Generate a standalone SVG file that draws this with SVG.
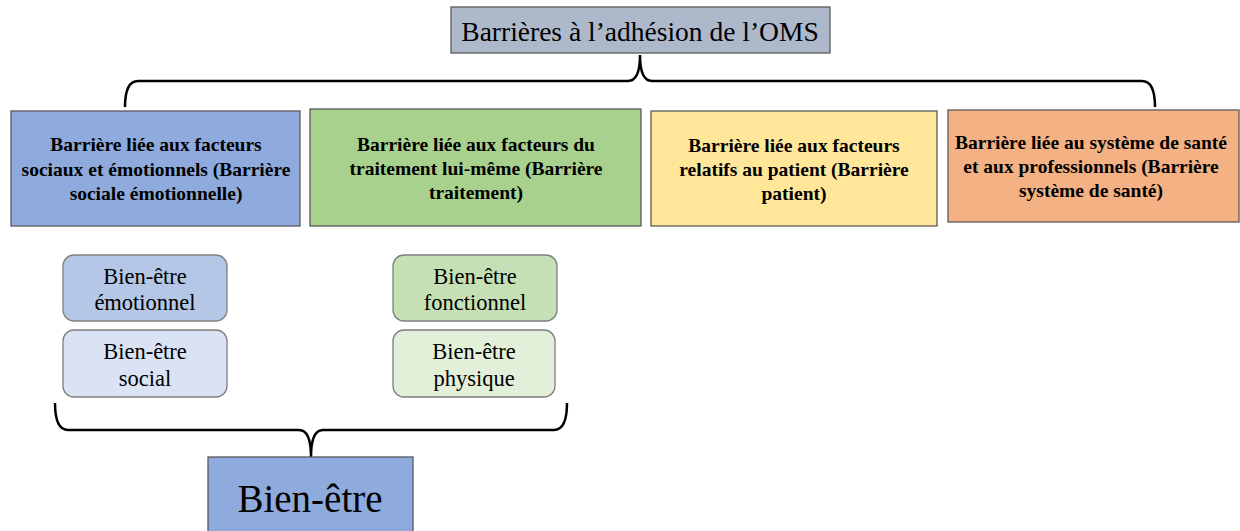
<svg xmlns="http://www.w3.org/2000/svg" width="1240" height="531" viewBox="0 0 1240 531">
<style>
.box{stroke:#595959;stroke-width:1.3}
.sub{stroke:#7f7f7f;stroke-width:1.3}
.t{font-family:"Liberation Serif","Times New Roman",serif;fill:#000;text-anchor:middle}
.b{font-weight:bold;font-size:19.5px}
.s{font-size:22.5px}
.br{fill:none;stroke:#000;stroke-width:2.5}
</style>
<rect width="1240" height="531" fill="#fff"/>
<g id="connectors">
<path class="br" d="M125,107 Q125,81 138,81 L628,81 Q640,81 640,55 Q640,81 652,81 L1142,81 Q1155,81 1155,107"/>
<path class="br" d="M55,403 Q55,430 68,430 L299,430 Q311,430 311,457 Q311,430 323,430 L554,430 Q567,430 567,403"/>
</g>
<g id="title">
<rect class="box" x="451" y="7" width="379" height="46" fill="#ADB9CA"/>
<text class="t" x="640" y="41" font-size="27.5">Barrières à l’adhésion de l’OMS</text>
</g>
<g id="b1">
<rect class="box" x="11" y="111" width="289" height="115" fill="#8FAADC"/>
<text class="t b"><tspan x="156" y="151">Barrière liée aux facteurs</tspan><tspan x="156" y="176">sociaux et émotionnels (Barrière</tspan><tspan x="156" y="200">sociale émotionnelle)</tspan></text>
</g>
<g id="b2">
<rect class="box" x="310" y="109" width="331" height="117" fill="#A9D18E"/>
<text class="t b"><tspan x="476" y="151">Barrière liée aux facteurs du</tspan><tspan x="476" y="175">traitement lui-même (Barrière</tspan><tspan x="476" y="199">traitement)</tspan></text>
</g>
<g id="b3">
<rect class="box" x="651" y="111" width="286" height="115" fill="#FFE699"/>
<text class="t b"><tspan x="794" y="152">Barrière liée aux facteurs</tspan><tspan x="794" y="176">relatifs au patient (Barrière</tspan><tspan x="794" y="200">patient)</tspan></text>
</g>
<g id="b4">
<rect class="box" x="948" y="110" width="291" height="112" fill="#F4B183"/>
<text class="t b"><tspan x="1091" y="149">Barrière liée au système de santé</tspan><tspan x="1091" y="173">et aux professionnels (Barrière</tspan><tspan x="1091" y="197">système de santé)</tspan></text>
</g>
<g id="s1">
<rect class="sub" x="63" y="255" width="164" height="66" rx="11" fill="#B4C7E7"/>
<text class="t s"><tspan x="145" y="284">Bien-être</tspan><tspan x="145" y="310">émotionnel</tspan></text>
</g>
<g id="s2">
<rect class="sub" x="63" y="330" width="164" height="67" rx="11" fill="#DAE3F3"/>
<text class="t s"><tspan x="145" y="359">Bien-être</tspan><tspan x="145" y="386">social</tspan></text>
</g>
<g id="s3">
<rect class="sub" x="393" y="255" width="164" height="66" rx="11" fill="#C5E0B4"/>
<text class="t s"><tspan x="475" y="284">Bien-être</tspan><tspan x="475" y="310">fonctionnel</tspan></text>
</g>
<g id="s4">
<rect class="sub" x="393" y="330" width="162" height="67" rx="11" fill="#E2F0D9"/>
<text class="t s"><tspan x="474" y="359">Bien-être</tspan><tspan x="474" y="386">physique</tspan></text>
</g>
<g id="bien">
<rect class="box" x="208" y="457" width="205" height="80" fill="#8FAADC"/>
<text class="t" x="310" y="512" font-size="39">Bien-être</text>
</g>
</svg>
